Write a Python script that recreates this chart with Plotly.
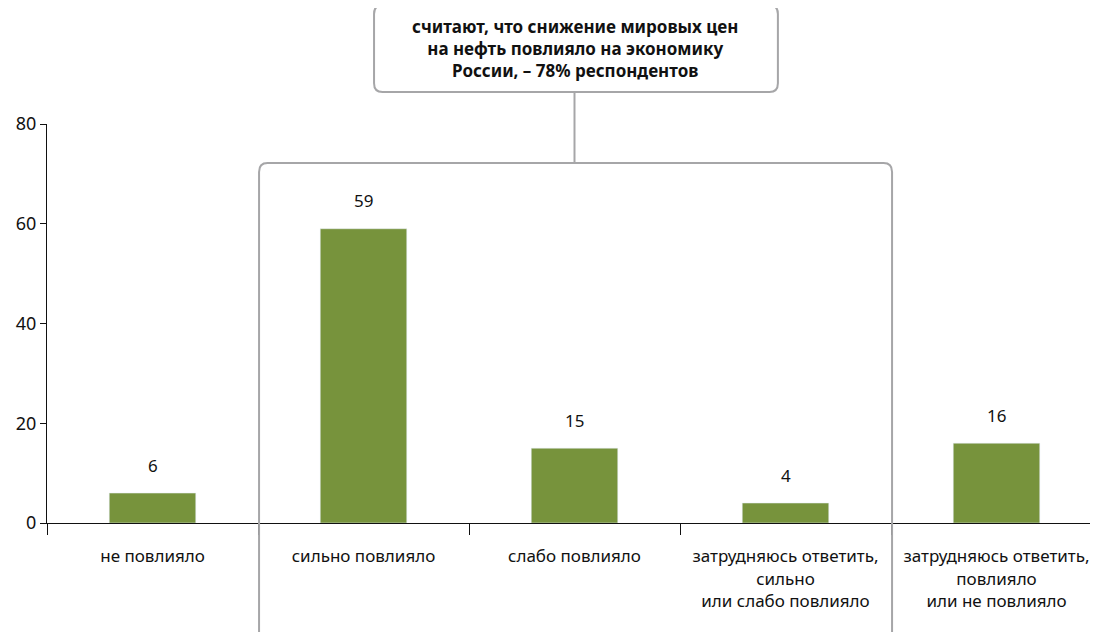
import plotly.graph_objects as go

categories = ["не повлияло", "сильно повлияло", "слабо повлияло",
              "затрудняюсь ответить,<br>сильно<br>или слабо повлияло",
              "затрудняюсь ответить,<br>повлияло<br>или не повлияло"]
values = [6, 59, 15, 4, 16]
y_ticks = [0, 20, 40, 60, 80]
callout_text = "считают, что снижение мировых цен<br>на нефть повлияло на экономику<br>России, – 78% респондентов"

FONT = "Noto Sans"
BAR = "#77933C"
GREY = "#A6A6A8"

fig = go.Figure(go.Bar(x=categories, y=values, marker_color=BAR, width=0.41,
                       hoverinfo="skip"))

for c, v in zip(categories, values):
    fig.add_annotation(x=c, y=v, text=str(v), showarrow=False, yshift=28,
                       font=dict(size=17, color="#111", family=FONT))

# grouping box (rounded top corners) around categories 1..3
r_x = 0.04
r_y = 0.022
x0, x1 = 0.505, 3.505
ytop = 0.902
ybot = -0.3
path = (f"M {x0},{ybot} L {x0},{ytop - r_y} Q {x0},{ytop} {x0 + r_x},{ytop} "
        f"L {x1 - r_x},{ytop} Q {x1},{ytop} {x1},{ytop - r_y} L {x1},{ybot}")
fig.add_shape(type="path", path=path, xref="x", yref="paper",
              line=dict(color=GREY, width=2), layer="above")

# connector line
fig.add_shape(type="line", xref="x", yref="paper", x0=2.0, x1=2.0, y0=ytop, y1=1.080,
              line=dict(color=GREY, width=2))

# callout box
cx0, cx1 = 1.05, 2.964
cy0, cy1 = 1.080, 1.298
rx2, ry2 = 0.04, 0.022
cpath = (f"M {cx0 + rx2},{cy0} L {cx1 - rx2},{cy0} Q {cx1},{cy0} {cx1},{cy0 + ry2} "
         f"L {cx1},{cy1 - ry2} Q {cx1},{cy1} {cx1 - rx2},{cy1} L {cx0 + rx2},{cy1} "
         f"Q {cx0},{cy1} {cx0},{cy1 - ry2} L {cx0},{cy0 + ry2} Q {cx0},{cy0} {cx0 + rx2},{cy0} Z")
fig.add_shape(type="path", path=cpath, xref="x", yref="paper",
              line=dict(color=GREY, width=2), fillcolor="white")
fig.add_annotation(x=2.0, y=(cy0 + cy1) / 2, xref="x", yref="paper",
                   xanchor="center", yanchor="middle",
                   text=f"<b>{callout_text}</b>", showarrow=False,
                   font=dict(size=17, color="#111", family=FONT), align="center")

fig.update_layout(
    width=1098, height=632,
    margin=dict(l=39, r=4, t=116, b=117),
    paper_bgcolor="white", plot_bgcolor="white",
    showlegend=False,
    font=dict(family=FONT, size=16, color="#111"),
    xaxis=dict(type="category", range=[-0.5, 4.5], showline=True, linecolor="#111",
               linewidth=1, ticks="outside", tickson="boundaries", ticklen=11,
               tickcolor="#111", showgrid=False, zeroline=False, ticklabelstandoff=18,
               tickfont=dict(size=17, family=FONT, color="#111"), fixedrange=True),
    yaxis=dict(range=[0, 80], tickvals=y_ticks, showline=True, linecolor="#111",
               linewidth=1, ticks="outside", ticklen=6, tickcolor="#111",
               showgrid=False, zeroline=False,
               tickfont=dict(size=18, family=FONT, color="#111"), fixedrange=True),
)

fig.write_html("out.html")
